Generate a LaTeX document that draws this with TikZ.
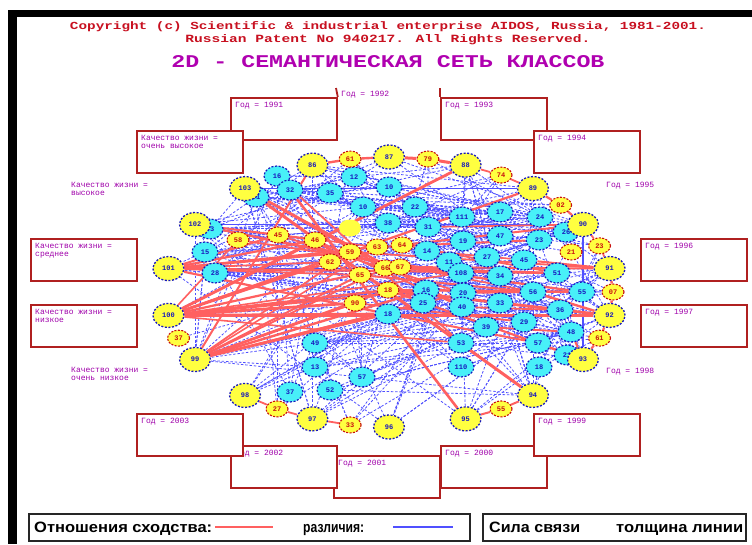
\documentclass[tikz,border=0pt]{standalone}
\usepackage{fontspec}
\setmainfont{Liberation Sans}
\newfontfamily\dosmono{Liberation Mono}
\usetikzlibrary{shapes.geometric}
\definecolor{copyred}{RGB}{200,16,32}
\definecolor{titlemag}{RGB}{176,0,176}
\definecolor{boxred}{RGB}{176,32,32}
\definecolor{labmag}{RGB}{160,0,170}
\definecolor{nodeyel}{RGB}{255,255,64}
\definecolor{nodecyan}{RGB}{72,240,248}
\definecolor{rimblue}{RGB}{24,24,190}
\definecolor{rimred}{RGB}{200,16,16}
\definecolor{simred}{RGB}{255,96,96}
\definecolor{diffblue}{RGB}{80,80,255}
\pgfdeclarelayer{paper}
\pgfdeclarelayer{links}
\pgfsetlayers{paper,links,main}
\newcommand\nodefont{\dosmono\bfseries\fontsize{7}{7}\selectfont}
\tikzset{
  bigcls/.style={ellipse, fill=nodeyel, draw=rimblue, line width=1.3pt,
    dash pattern=on 2pt off 1.6pt, minimum width=31pt, minimum height=24pt,
    inner sep=0pt, font=\nodefont, text=rimblue},
  smallcls/.style={ellipse, fill=nodeyel, draw=rimred, line width=1.1pt,
    dash pattern=on 2pt off 1.4pt, minimum width=22pt, minimum height=16pt,
    inner sep=0pt, font=\nodefont, text=rimred},
  featcls/.style={ellipse, fill=nodecyan, draw=rimblue, line width=1.2pt,
    dash pattern=on 2pt off 1.6pt, minimum width=26pt, minimum height=20pt,
    inner sep=0pt, font=\nodefont, text=rimblue},
  plaincls/.style={ellipse, fill=nodeyel, minimum width=22pt, minimum height=17pt, inner sep=0pt},
  simlink/.style={draw=simred, line width=#1},
  simlink/.default=1.6pt,
  difflink/.style={draw=diffblue, line width=0.8pt, dash pattern=on 2.5pt off 1.8pt},
  clsbox/.style={draw=boxred, line width=1.8pt, fill=white, anchor=north west,
    minimum width=106pt, minimum height=42pt, inner sep=0pt},
  boxlab/.style={anchor=north west, text=labmag, inner sep=0pt, align=left,
    font=\dosmono\fontsize{8}{8.5}\selectfont},
  legtext/.style={anchor=base west, inner sep=0pt, text=black,
    font=\fontsize{15}{15}\selectfont\bfseries},
  legbox/.style={draw=black!85, line width=1.6pt, anchor=north west, inner sep=0pt},
}
\begin{document}
\begin{tikzpicture}[x=1pt,y=-1pt]
\begin{pgfonlayer}{paper}
\fill[white] (0,0) rectangle (752,544);
\end{pgfonlayer}
\useasboundingbox (0,0) rectangle (752,544);
% window frame
\fill[black] (8,10) rectangle (752,17);
\fill[black] (8,10) rectangle (17,544);

% headings
\node[text=copyred, inner sep=0pt] (copy1) at (388,27)
  {\resizebox{636pt}{8pt}{\dosmono\bfseries Copyright (c) Scientific \& industrial enterprise AIDOS, Russia, 1981-2001.}};
\node[text=copyred, inner sep=0pt] (copy2) at (388,40)
  {\resizebox{405pt}{8pt}{\dosmono\bfseries Russian Patent No 940217. All Rights Reserved.}};
\node[text=titlemag, inner sep=0pt] (title) at (388,62)
  {\resizebox{433pt}{12pt}{\dosmono\bfseries 2D - СЕМАНТИЧЕСКАЯ СЕТЬ КЛАССОВ}};

% class boxes, back to front
\foreach \x/\y/\t [count=\i] in {
  333/455/{Год = 2001},
  230/445/{Год = 2002},
  440/445/{Год = 2000},
  136/413/{Год = 2003},
  533/413/{Год = 1999},
  230/97/{Год = 1991},
  440/97/{Год = 1993},
  136/130/{Качество жизни =\\очень высокое},
  533/130/{Год = 1994},
  30/238/{Качество жизни =\\среднее},
  640/238/{Год = 1996},
  30/304/{Качество жизни =\\низкое},
  640/304/{Год = 1997}}
{
  \node[clsbox] (box\i) at (\x,\y) {};
  \node[boxlab] (lab\i) at ([shift={(5,5)}]box\i.north west) {\t};
}
\coordinate (stubA) at (336,88);
\coordinate (stubB) at (440,88);
\draw[boxred, line width=1.8pt] (stubA) -- (box6.north east);
\draw[boxred, line width=1.8pt] (stubB) -- (box7.north west);

% free class labels
\node[boxlab] (free1) at (341,91) {Год = 1992};
\node[boxlab] (free2) at (71,182) {Качество жизни =\\высокое};
\node[boxlab] (free3) at (606,182) {Год = 1995};
\node[boxlab] (free4) at (71,367) {Качество жизни =\\очень низкое};
\node[boxlab] (free5) at (606,368) {Год = 1998};

% feature nodes
\foreach \x/\y/\t [count=\i] in {
  277/176/16, 354/177/12, 389/187/10, 290/190/32, 330/193/35,
  256/197/41, 363/207/10, 415/207/22, 500/212/17, 462/217/111,
  540/217/24, 388/223/38, 428/227/31, 210/229/43, 500/236/47,
  566/232/26, 539/240/23, 463/241/19, 427/251/14, 205/252/15,
  487/257/27, 524/260/45, 449/262/11, 215/273/28, 461/273/108,
  500/276/34, 557/273/51, 426/290/16, 463/293/20, 533/292/56,
  582/292/55, 423/303/25, 462/307/40, 500/303/33, 560/310/36,
  388/314/18, 524/322/29, 486/327/39, 571/332/48, 315/343/49,
  461/343/53, 538/343/57, 567/355/21, 315/367/13, 461/367/110,
  539/367/18, 362/377/57, 330/390/52, 290/392/37}
{\node[featcls] (c\i) at (\x,\y) {\t};}

% inner small classes
\node[plaincls] (pl1) at (350,228) {};
\foreach \x/\y/\t [count=\i] in {
  238/240/58, 278/235/45, 315/240/46, 350/252/59, 330/262/62,
  377/247/63, 402/245/64, 360/275/65, 385/268/66, 400/267/67,
  355/303/90, 388/290/18, 571/252/21}
{\node[smallcls] (y\i) at (\x,\y) {\t};}

% small classes on the ring
\foreach \a/\t [count=\i] in {100/61, 80/79, 60/74, 40/02, 20/23, 0/07,
  -20/61, -60/55, -100/33, -120/27, -160/37}
{\node[smallcls] (s\i) at ({389+224*cos(\a)},{292-135*sin(\a)}) {\t};}

% large classes on the ring
\foreach \a/\t in {90/87, 70/88, 50/89, 30/90, 10/91, -10/92, -30/93, -50/94,
  -70/95, -90/96, -110/97, -130/98, -150/99, -170/100, 170/101, 150/102,
  130/103, 110/86}
{\node[bigcls] (o\t) at ({389+224*cos(\a)},{292-135*sin(\a)}) {\t};}

\begin{pgfonlayer}{links}
\pgfmathsetseed{20011}
% differences between features
\foreach \k in {1,...,170}{
  \pgfmathrandominteger{\ca}{1}{40}
  \pgfmathrandominteger{\dd}{1}{9}
  \pgfmathtruncatemacro{\cb}{\ca+\dd}
  \draw[difflink] (c\ca) -- (c\cb);
}
\foreach \k in {1,...,95}{
  \pgfmathrandominteger{\ca}{1}{49}
  \pgfmathrandominteger{\oj}{86}{103}
  \draw[difflink] (c\ca) -- (o\oj);
}
\foreach \k in {1,...,30}{
  \pgfmathrandominteger{\oi}{86}{103}
  \pgfmathrandominteger{\dd}{3}{15}
  \pgfmathtruncatemacro{\oj}{86+mod(\oi-86+\dd,18)}
  \draw[difflink] (o\oi) -- (o\oj);
}
\foreach \k in {1,...,40}{
  \pgfmathrandominteger{\ya}{1}{13}
  \pgfmathrandominteger{\cb}{1}{49}
  \draw[difflink] (y\ya) -- (c\cb);
}
\foreach \k in {1,...,35}{
  \pgfmathrandominteger{\sa}{1}{11}
  \pgfmathrandominteger{\cb}{1}{49}
  \draw[difflink] (s\sa) -- (c\cb);
}
\foreach \u/\v in {o102/o90, o101/o91, o100/o92, o103/o89, o90/o93, y12/s6}
  \draw[difflink, solid, line width=1.2pt] (\u) -- (\v);
% similarities
\foreach \u/\v/\w in {
  o100/o88/2.8, o100/o92/2.6, o100/y12/2.4, o100/y11/2.8, o100/y4/2,
  o100/y3/1.8, o100/c28/2, o100/c25/1.6, o100/y1/1.6, o100/y5/2.6,
  o100/y9/2.2, o100/c36/2.8, o100/c41/1.6,
  o99/y11/2.4, o99/y12/2.2, o99/c32/2, o99/c29/1.8, o99/y9/1.8, o99/y6/1.6,
  o99/y8/2, o99/y4/1.8, o99/c28/2.4, o99/c36/2.2,
  o101/y2/2, o101/c27/2.2, o101/y8/1.8, o101/y5/1.8, o101/y4/2.4,
  o101/y3/2.2, o101/y6/1.8, o101/c36/2.2,
  o102/c30/1.6, o102/y10/1.8, o102/y3/1.8, o102/y6/1.6,
  o103/o94/3, o103/y9/1.8, o103/c33/2.4, c4/o95/2.6, o86/o99/2,
  o89/o100/2.2, o90/y7/2, o91/y4/1.8, c1/c41/1.8,
  y1/c25/1.8, y2/c29/1.8, y5/c32/1.6, y11/c37/1.8, y10/c31/2.2, y8/c30/2,
  y10/o91/2, y7/c27/1.8, c13/o90/1.6, c28/c31/2, c33/c35/1.8,
  c19/c22/1.6, y12/c31/2.2,
  o86/s1/2.4, s1/o87/2.4, o87/s2/3, s2/o88/3, o88/s3/1.8, s3/o89/1.8,
  o89/s4/2.2, s4/o90/2.2, o90/s5/1.8, s5/o91/1.8, o91/s6/2.4, s6/o92/2.4,
  o92/s7/2.2, s7/o93/2.2, o94/s8/2, s8/o95/2, o97/s9/1.8,
  o98/s10/1.8, s10/o97/1.8,
  y12/o92/2.8, y12/o93/2.2, c36/c42/2, c42/o93/2, y9/c27/2.2,
  y6/c17/2, y3/c33/1.8, c29/c30/1.8, c30/o92/2.4, c22/o91/2,
  c34/c35/1.8, c38/c39/1.8, c39/o93/2}
  \draw[simlink=\w pt] (\u) -- (\v);
\end{pgfonlayer}

% legend
\node[legbox, minimum width=441pt, minimum height=27pt] (legA) at (28,513) {};
\node[legbox, minimum width=263pt, minimum height=27pt] (legB) at (482,513) {};
\node[legtext] (legsim) at (34,532) {\resizebox{178pt}{\height}{Отношения сходства:}};
\node[legtext] (legdif) at (303,532) {\resizebox{61pt}{\height}{различия:}};
\node[legtext] (legforce) at (489,532) {\resizebox{91pt}{\height}{Сила связи}};
\node[legtext] (legwidth) at (616,532) {\resizebox{127pt}{\height}{толщина линии}};
\coordinate (simA) at (215,527);
\coordinate (simB) at (273,527);
\coordinate (difA) at (393,527);
\coordinate (difB) at (453,527);
\draw[simlink=1.8pt] (simA) -- (simB);
\draw[draw=diffblue, line width=1.6pt] (difA) -- (difB);
\end{tikzpicture}
\end{document}
